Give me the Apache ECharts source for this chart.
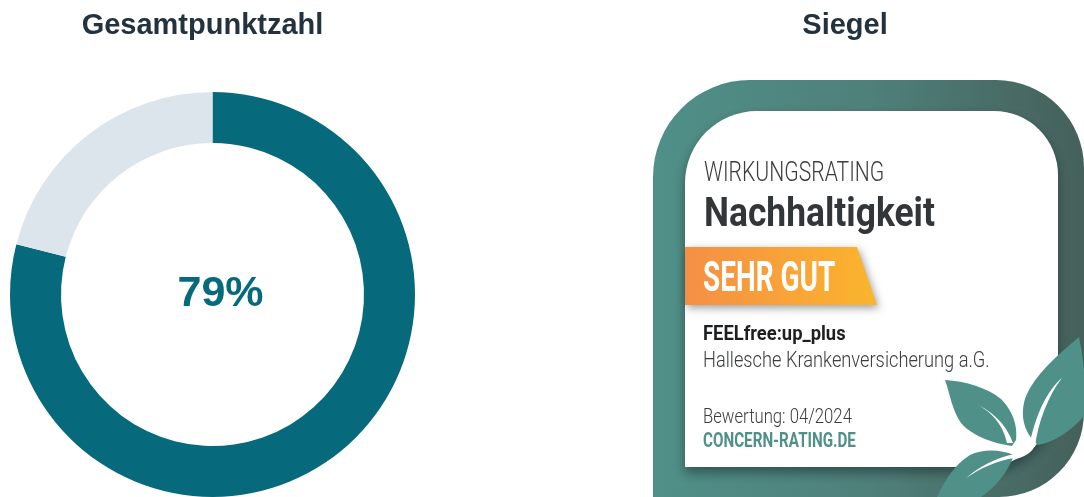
<!DOCTYPE html>
<html>
<head>
<meta charset="utf-8">
<style>
  html, body { margin: 0; padding: 0; background: #fff; }
  #chart { width: 1084px; height: 497px; }
</style>
<script src="https://cdn.jsdelivr.net/npm/echarts@6/dist/echarts.min.js"></script>
</head>
<body>
<div id="chart"></div>
<script>
const headings = ["Gesamtpunktzahl", "Siegel"];
const scoreNames = ["Erreicht", "Offen"];
const scoreValues = [79, 21];
const scoreLabel = "79%";

const TEAL = "#066a7c";
const SEAL = "#4f9088";
const INK = "#333638";

// text of the seal, scaleX squeezes it to the condensed look
const sealText = (text, x, y, font, fill, scaleX) => ({
  type: "text",
  x: x,
  y: y,
  scaleX: scaleX,
  silent: true,
  style: { text: text, font: font, fill: fill, verticalAlign: "middle" },
});
// graphic kennt kein "path", also als eigene shape registrieren
let shapeCount = 0;
const pathShape = (path, style) => {
  let name = "sealPath" + shapeCount++;
  echarts.graphic.registerShape(name, echarts.graphic.extendPath(path));
  return { type: name, silent: true, style: style };
};
const leaf = (path) => pathShape(path, { fill: SEAL });
const vein = (path) => pathShape(path, { fill: "#fff" });

const seal = [
  {
    // dunkler Rahmen
    type: "rect",
    silent: true,
    shape: { x: 653, y: 80, width: 431, height: 417, r: [97, 88, 85, 0] },
    style: {
      fill: new echarts.graphic.LinearGradient(0, 0, 1, 0, [
        { offset: 0, color: "#4f9088" },
        { offset: 0.5, color: "#4f807a" },
        { offset: 1, color: "#45605b" },
      ]),
    },
  },
  {
    // weisse Flaeche
    type: "rect",
    silent: true,
    shape: { x: 685, y: 111, width: 373, height: 356, r: [72, 64, 75, 0] },
    style: {
      fill: "#fff",
      shadowBlur: 12,
      shadowColor: "rgba(20,40,38,0.55)",
      shadowOffsetX: 0,
      shadowOffsetY: 6,
    },
  },
  sealText("WIRKUNGSRATING", 704, 174, "300 28px Roboto", "#3a3c3e", 0.755),
  sealText("Nachhaltigkeit", 704, 216, "bold 40px Roboto", INK, 0.885),
  {
    type: "polygon",
    silent: true,
    shape: { points: [[685, 247], [857, 247], [877, 305], [685, 305]] },
    style: {
      fill: new echarts.graphic.LinearGradient(0, 0, 1, 0, [
        { offset: 0, color: "#f58f45" },
        { offset: 1, color: "#fbb52c" },
      ]),
      shadowBlur: 8,
      shadowColor: "rgba(40,40,40,0.45)",
      shadowOffsetX: 2,
      shadowOffsetY: 3,
    },
  },
  sealText("SEHR GUT", 703, 280, "bold 42px Roboto", "#fff", 0.665),
  sealText("FEELfree:up_plus", 703, 335, "bold 21px Roboto", "#1d1f20", 0.875),
  sealText("Hallesche Krankenversicherung a.G.", 703, 361, "300 22px Roboto", "#3a3c3e", 0.83),
  sealText("Bewertung: 04/2024", 703, 418, "300 21px Roboto", "#3a3c3e", 0.795),
  sealText("CONCERN-RATING.DE", 703, 442, "bold 20px Roboto", SEAL, 0.76),
  // Blaetter
  leaf("M1079 337 C1055 357 1035 375 1026 396 C1020 412 1022 432 1038 445 C1055 442 1072 430 1084 416 L1084 370 C1083 358 1081 347 1079 337 Z"),
  leaf("M945 380 C965 381 988 388 1001 399 C1012 410 1018 425 1016 440 L1012 446 C990 443 970 434 961 423 C952 410 950 394 945 380 Z"),
  leaf("M1014 455 C1000 449 982 449 970 455 C955 464 945 480 937 497 L981 497 C995 488 1008 472 1014 455 Z"),
  vein("M1062 378 C1048 390 1036 412 1029 447 L1035 447 C1038 422 1048 396 1062 378 Z"),
  vein("M971 402 C990 409 1003 424 1007 443 L1013 443 C1006 423 990 409 971 402 Z"),
  vein("M966 478 C980 466 996 458 1014 454 L1014 458 C996 461 981 468 966 478 Z"),
  vein("M1029 444 C1027 450 1022 454 1012 455 L1013 459 C1024 458 1033 452 1035 445 Z"),
];

let chartDom = document.getElementById("chart");
let myChart = echarts.init(chartDom);
let option = {
  animation: false,
  title: [
    {
      text: headings[0],
      left: 197.5,
      top: 21,
      textAlign: "center",
      textVerticalAlign: "middle",
      textStyle: { fontFamily: "Liberation Sans", fontSize: 29, fontWeight: "bold", color: "#23323e" },
    },
    {
      text: headings[1],
      left: 840,
      top: 21,
      textAlign: "center",
      textVerticalAlign: "middle",
      textStyle: { fontFamily: "Liberation Sans", fontSize: 29, fontWeight: "bold", color: "#23323e" },
    },
    {
      text: scoreLabel,
      left: 215.5,
      top: 289,
      textAlign: "center",
      textVerticalAlign: "middle",
      textStyle: { fontFamily: "Liberation Sans", fontSize: 43, fontWeight: "bold", color: TEAL },
    },
  ],
  series: [
    {
      type: "pie",
      center: [212.5, 294.5],
      radius: [151.5, 202.5],
      startAngle: 90,
      silent: true,
      label: { show: false },
      labelLine: { show: false },
      data: [
        { name: scoreNames[0], value: scoreValues[0], itemStyle: { color: TEAL } },
        { name: scoreNames[1], value: scoreValues[1], itemStyle: { color: "#dde5ec" } },
      ],
    },
  ],
  graphic: { elements: seal },
};
option && myChart.setOption(option);
</script>
</body>
</html>
